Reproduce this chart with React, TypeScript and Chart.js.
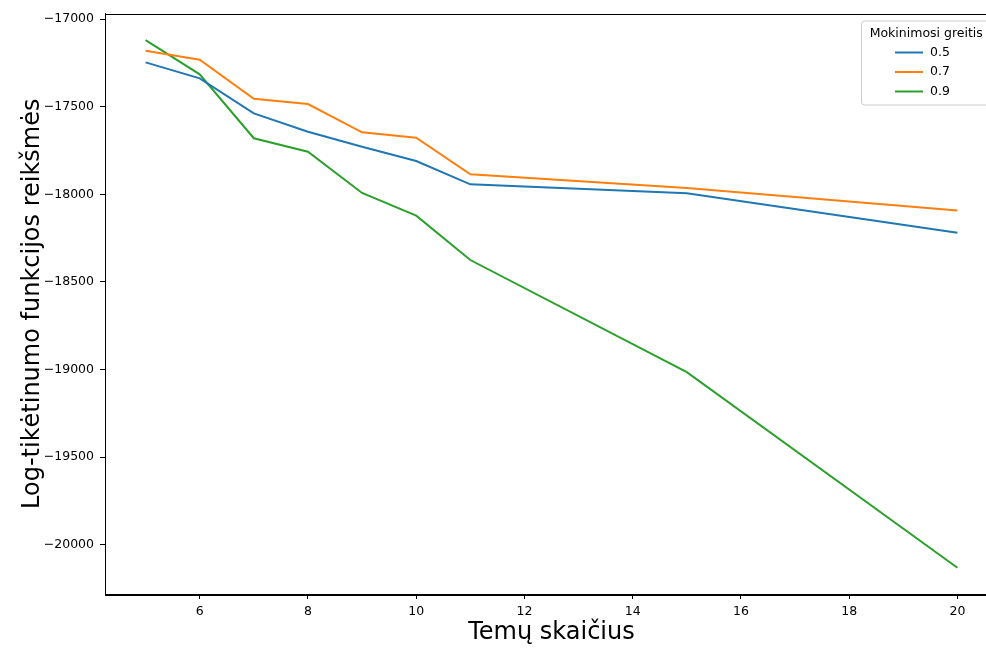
import React, { useEffect, useRef } from "react";
import { Chart, registerables } from "chart.js";

Chart.register(...registerables);

const topics = [5, 6, 7, 8, 9, 10, 11, 15, 20];
const seriesLabels = ["0.5", "0.7", "0.9"];
const lr05 = [-17247, -17338, -17538, -17643, -17728, -17810, -17943, -17994, -18219];
const lr07 = [-17181, -17232, -17455, -17485, -17646, -17677, -17886, -17964, -18093];
const lr09 = [-17120, -17315, -17680, -17757, -17992, -18122, -18375, -19015, -20131];
const xTicks = [6, 8, 10, 12, 14, 16, 18, 20];
const yTicks = [-20000, -19500, -19000, -18500, -18000, -17500, -17000];
const colors = ["#1f77b4", "#ff7f0e", "#2ca02c"];
const legendTitle = "Mokinimosi greitis";
const xTitle = "Temų skaičius";
const yTitle = "Log-tikėtinumo funkcijos reikšmės";

const FONT = "'DejaVu Sans', sans-serif";

const framePlugin = {
  id: "frame",
  afterDraw(chart: any) {
    const { ctx, chartArea } = chart;
    const { left, right, top, bottom } = chartArea;
    ctx.save();
    ctx.strokeStyle = "#000";
    ctx.lineWidth = 1;
    ctx.strokeRect(Math.round(left) + 0.5, Math.round(top) + 0.5, Math.round(right - left), Math.round(bottom - top));

    // legend
    const bx = right - 137;
    const by = top + 7;
    const bw = 130.5;
    const bh = 84;
    ctx.fillStyle = "rgba(255,255,255,0.8)";
    ctx.strokeStyle = "#cccccc";
    ctx.lineWidth = 1;
    ctx.beginPath();
    (ctx as any).roundRect(bx + 0.5, by + 0.5, bw, bh, 3);
    ctx.fill();
    ctx.stroke();

    ctx.fillStyle = "#000";
    ctx.font = `12.5px ${FONT}`;
    ctx.textAlign = "center";
    ctx.textBaseline = "middle";
    ctx.fillText(legendTitle, bx + bw / 2, by + 13);
    ctx.textAlign = "left";
    chart.data.datasets.forEach((ds: any, i: number) => {
      const y = by + 32 + i * 19.5;
      ctx.strokeStyle = ds.borderColor;
      ctx.lineWidth = 2;
      ctx.beginPath();
      ctx.moveTo(right - 103, y);
      ctx.lineTo(right - 75, y);
      ctx.stroke();
      ctx.fillStyle = "#000";
      ctx.fillText(ds.label, right - 68, y);
    });
    ctx.restore();
  },
};

export default function App() {
  const ref = useRef<HTMLCanvasElement>(null);
  useEffect(() => {
    if (!ref.current) return;
    const mk = (label: string, data: number[], color: string) => ({
      label,
      data: topics.map((x, i) => ({ x, y: data[i] })),
      borderColor: color,
      backgroundColor: color,
      borderWidth: 2,
      pointRadius: 0,
      tension: 0,
      fill: false,
    });
    const chart = new Chart(ref.current, {
      type: "line",
      data: {
        datasets: [
          mk(seriesLabels[0], lr05, colors[0]),
          mk(seriesLabels[1], lr07, colors[1]),
          mk(seriesLabels[2], lr09, colors[2]),
        ],
      },
      options: {
        responsive: false,
        animation: false,
        devicePixelRatio: 1,
        layout: { padding: { top: 13, right: 2, left: 0, bottom: 0 } },
        plugins: { legend: { display: false }, tooltip: { enabled: false } },
        scales: {
          x: {
            type: "linear",
            min: 4.25,
            max: 20.75,
            afterFit: (s: any) => {
              s.height = 54;
            },
            afterBuildTicks: (s: any) => {
              s.ticks = xTicks.map((v) => ({ value: v }));
            },
            grid: { drawOnChartArea: false, tickLength: 5, tickColor: "#000", tickWidth: 1 },
            border: { display: true, color: "#000", width: 1 },
            ticks: {
              padding: 5,
              color: "#000",
              font: { family: FONT, size: 12.5 },
              maxRotation: 0,
              autoSkip: false,
              callback: (v: any) => String(v),
            },
            title: {
              display: true,
              text: xTitle,
              color: "#000",
              font: { family: FONT, size: 24, lineHeight: 1.2 },
              padding: { top: 0, bottom: 1 },
            },
          },
          y: {
            type: "linear",
            min: -20281,
            max: -16968,
            afterFit: (s: any) => {
              s.width = 105;
            },
            afterBuildTicks: (s: any) => {
              s.ticks = yTicks.map((v) => ({ value: v }));
            },
            grid: { drawOnChartArea: false, tickLength: 5, tickColor: "#000", tickWidth: 1 },
            border: { display: true, color: "#000", width: 1 },
            ticks: {
              padding: 6,
              color: "#000",
              font: { family: FONT, size: 12.5 },
              autoSkip: false,
              callback: (v: any) => (v < 0 ? "\u2212" + Math.abs(v) : String(v)),
            },
            title: {
              display: true,
              text: yTitle,
              color: "#000",
              font: { family: FONT, size: 24, lineHeight: 1.2 },
              padding: { top: 18.6, bottom: 0 },
            },
          },
        },
      },
      plugins: [framePlugin],
    });
    return () => chart.destroy();
  }, []);
  return (
    <div
      style={{
        position: "fixed",
        left: 0,
        top: 0,
        width: 986,
        height: 648,
        overflow: "hidden",
        background: "#fff",
      }}
    >
      <canvas ref={ref} width={1000} height={648} style={{ display: "block" }} />
    </div>
  );
}
